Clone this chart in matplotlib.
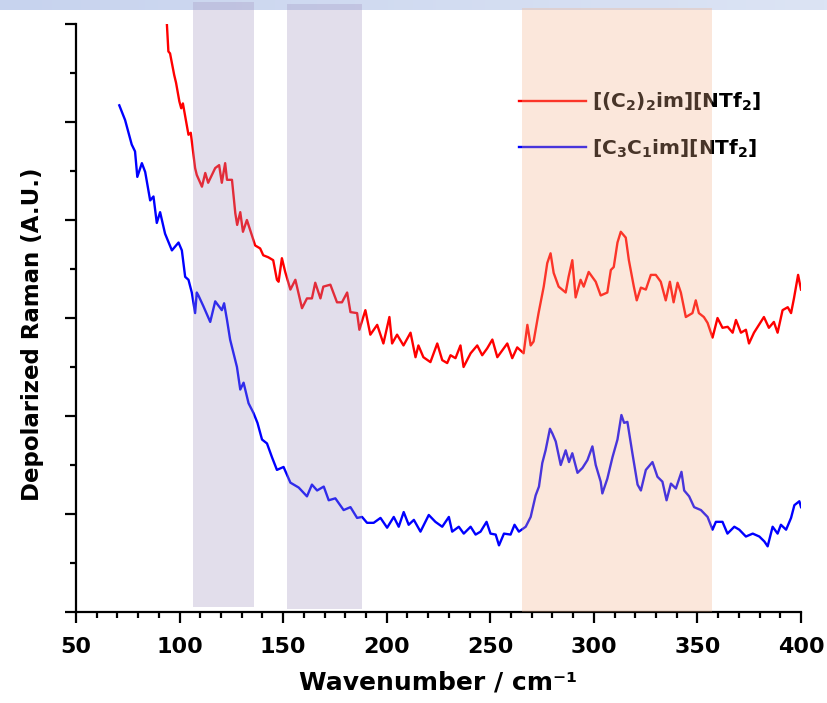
import numpy as np
import matplotlib.pyplot as plt
from matplotlib.colors import LinearSegmentedColormap
from matplotlib.patches import Rectangle
from matplotlib.ticker import MultipleLocator

plt.rcParams['font.family'] = ['DejaVu Sans']
plt.rcParams['font.weight'] = 'bold'
plt.rcParams['mathtext.default'] = 'bf'

# Depolarized Raman spectra (arbitrary units, offset)
red_wn = [93.9, 94.6, 95.4, 97.4, 98.3, 99.9, 100.8, 101.6, 104.3, 105.4,
          107.5, 108.3, 110.8, 112.4, 113.8, 117.2, 119.1, 120.4, 122.0, 122.9,
          125.3, 126.9, 127.8, 129.3, 130.6, 132.5, 136.5, 138.9, 140.4, 142.8,
          145.2, 147.0, 147.8, 149.4, 151.0, 153.5, 155.9, 159.1, 161.5, 163.9,
          165.5, 168.0, 169.4, 172.8, 176.0, 178.4, 180.9, 182.5, 185.7, 186.8,
          189.7, 192.1, 195.4, 198.4, 201.3, 202.6, 205.0, 208.1, 211.5, 213.9,
          215.3, 217.7, 221.1, 224.4, 226.8, 229.2, 230.8, 233.2, 235.6, 237.1,
          240.5, 243.7, 246.1, 248.5, 251.0, 253.4, 255.8, 258.2, 260.6, 263.0,
          266.1, 267.9, 269.5, 270.9, 273.3, 275.8, 277.5, 279.1, 280.6, 283.0,
          286.4, 287.8, 289.6, 291.2, 293.6, 295.1, 297.5, 300.9, 303.3, 306.5,
          308.2, 309.6, 311.4, 313.0, 315.4, 316.9, 319.3, 320.7, 322.7, 325.1,
          327.5, 329.9, 332.3, 334.7, 336.7, 338.5, 340.4, 342.0, 344.4, 347.6,
          349.2, 350.7, 353.1, 354.9, 357.3, 359.7, 362.1, 364.6, 367.0, 368.6,
          371.0, 373.4, 374.9, 377.3, 379.7, 382.1, 384.5, 386.9, 388.7, 391.1,
          393.6, 395.2, 396.6, 398.6, 400.0]
red_int = [5.99, 5.72, 5.70, 5.48, 5.40, 5.21, 5.14, 5.19, 4.87, 4.89,
           4.53, 4.46, 4.34, 4.48, 4.38, 4.53, 4.56, 4.38, 4.58, 4.41,
           4.41, 4.07, 3.95, 4.08, 3.88, 4.00, 3.74, 3.71, 3.64, 3.62,
           3.59, 3.39, 3.37, 3.61, 3.47, 3.29, 3.39, 3.10, 3.20, 3.20,
           3.36, 3.20, 3.32, 3.34, 3.16, 3.16, 3.26, 3.06, 3.05, 2.88,
           3.08, 2.83, 2.93, 2.74, 3.01, 2.74, 2.83, 2.72, 2.85, 2.60,
           2.72, 2.60, 2.55, 2.74, 2.57, 2.54, 2.62, 2.59, 2.72, 2.50,
           2.64, 2.72, 2.62, 2.69, 2.78, 2.60, 2.67, 2.74, 2.59, 2.70,
           2.64, 2.93, 2.72, 2.76, 3.05, 3.32, 3.56, 3.66, 3.46, 3.32,
           3.26, 3.42, 3.59, 3.21, 3.39, 3.32, 3.47, 3.37, 3.23, 3.26,
           3.49, 3.52, 3.77, 3.88, 3.82, 3.59, 3.32, 3.18, 3.31, 3.29,
           3.44, 3.44, 3.37, 3.18, 3.37, 3.16, 3.36, 3.26, 3.01, 3.05,
           3.18, 3.05, 3.01, 2.95, 2.80, 3.00, 2.90, 2.91, 2.85, 2.98,
           2.85, 2.88, 2.74, 2.85, 2.93, 3.01, 2.90, 2.96, 2.85, 3.08,
           3.11, 3.05, 3.20, 3.44, 3.29]

blue_wn = [70.9, 73.7, 76.9, 78.5, 79.6, 81.8, 83.4, 85.8, 87.4, 89.0,
           90.6, 93.0, 96.3, 99.5, 101.1, 102.7, 104.3, 105.9, 107.5, 108.3,
           109.1, 111.5, 114.8, 117.2, 120.4, 121.5, 122.9, 124.4, 127.7, 129.3,
           130.9, 133.3, 135.7, 137.6, 139.8, 142.2, 144.6, 147.0, 150.2, 153.5,
           157.5, 161.5, 163.9, 166.4, 169.6, 172.0, 175.2, 179.2, 182.5, 185.7,
           188.1, 190.5, 193.7, 197.0, 200.2, 203.4, 205.8, 208.2, 210.6, 213.1,
           216.3, 220.3, 223.5, 226.8, 230.0, 231.6, 234.8, 237.2, 240.5, 242.9,
           245.3, 248.2, 250.1, 252.6, 254.2, 256.6, 259.8, 261.7, 263.8, 267.1,
           269.5, 271.9, 273.5, 275.1, 276.7, 278.8, 280.0, 281.6, 284.0, 286.4,
           288.0, 289.6, 292.1, 294.5, 296.9, 299.3, 300.9, 303.3, 304.1, 306.5,
           309.0, 311.4, 313.3, 314.6, 316.2, 318.6, 321.1, 322.7, 325.1, 328.3,
           330.7, 333.1, 335.1, 337.2, 339.6, 342.3, 343.6, 346.0, 348.4, 351.7,
           354.9, 357.3, 358.9, 362.1, 364.5, 367.8, 370.2, 373.4, 376.7, 379.9,
           382.3, 383.9, 386.3, 388.7, 390.3, 392.8, 395.2, 396.8, 399.2, 400.0]
blue_int = [5.17, 5.02, 4.77, 4.70, 4.44, 4.58, 4.49, 4.20, 4.24, 3.97,
            4.08, 3.86, 3.69, 3.77, 3.69, 3.42, 3.39, 3.26, 3.05, 3.26,
            3.23, 3.12, 2.96, 3.17, 3.08, 3.15, 2.98, 2.78, 2.50, 2.27,
            2.34, 2.13, 2.03, 1.93, 1.76, 1.72, 1.58, 1.45, 1.48, 1.32,
            1.27, 1.18, 1.30, 1.24, 1.28, 1.14, 1.16, 1.04, 1.07, 0.96,
            0.97, 0.91, 0.91, 0.96, 0.86, 0.97, 0.87, 1.02, 0.89, 0.94,
            0.82, 0.99, 0.92, 0.87, 0.97, 0.82, 0.87, 0.80, 0.87, 0.79,
            0.82, 0.92, 0.80, 0.79, 0.68, 0.80, 0.79, 0.89, 0.82, 0.87,
            0.97, 1.19, 1.28, 1.52, 1.65, 1.87, 1.82, 1.74, 1.50, 1.65,
            1.53, 1.62, 1.42, 1.47, 1.55, 1.69, 1.50, 1.33, 1.21, 1.36,
            1.58, 1.76, 2.01, 1.93, 1.94, 1.62, 1.30, 1.24, 1.45, 1.53,
            1.38, 1.33, 1.14, 1.31, 1.26, 1.43, 1.24, 1.18, 1.07, 1.04,
            0.97, 0.84, 0.92, 0.92, 0.80, 0.87, 0.84, 0.77, 0.80, 0.77,
            0.72, 0.67, 0.87, 0.80, 0.89, 0.84, 0.96, 1.09, 1.13, 1.07]

labels = [r'[(C$_2$)$_2$im][NTf$_2$]', r'[C$_3$C$_1$im][NTf$_2$]']

# highlighted wavenumber windows: (start, end, bottom, top, colour)
bands = [(106.5, 136.0, 0.05, 6.22, '#a294c0'),
         (152.0, 188.0, 0.03, 6.20, '#a294c0'),
         (265.5, 356.8, 0.00, 6.16, '#f2b28a')]

fig = plt.figure(figsize=(8.27, 7.03), dpi=100, facecolor='white')

# pale blue strip along the top edge
strip = fig.add_axes([0, 1 - 10 / 703, 1, 10 / 703], zorder=0)
grad = np.linspace(0, 1, 256)[None, :]
strip.imshow(grad, aspect='auto', extent=[0, 1, 0, 1],
             cmap=LinearSegmentedColormap.from_list('strip',
                                                    ['#c7d3ee', '#dce4f4']))
strip.set_axis_off()

ax = fig.add_axes([76 / 827, 91 / 703, 725 / 827, 588 / 703], zorder=1)
ax.patch.set_alpha(0)

ax.plot(red_wn, red_int, color='#ff0000', lw=1.7, label=labels[0])
ax.plot(blue_wn, blue_int, color='#0000ff', lw=1.7, label=labels[1])

ax.set_xlim(50, 400)
ax.set_ylim(0, 6)

leg = ax.legend(loc='upper left', bbox_to_anchor=(0.6, 0.9), frameon=False,
                fontsize=14.5, handlelength=3.3, handletextpad=0.3,
                labelspacing=1.2, borderaxespad=0)

for x0, x1, y0, y1, c in bands:
    ax.add_patch(Rectangle((x0, y0), x1 - x0, y1 - y0, facecolor=c,
                           edgecolor='none', alpha=0.3, zorder=6,
                           clip_on=False))

for side in ('top', 'right'):
    ax.spines[side].set_visible(False)
for side in ('left', 'bottom'):
    ax.spines[side].set_linewidth(1.6)

ax.xaxis.set_major_locator(MultipleLocator(50))
ax.xaxis.set_minor_locator(MultipleLocator(10))
ax.yaxis.set_major_locator(MultipleLocator(1))
ax.yaxis.set_minor_locator(MultipleLocator(0.5))
ax.tick_params(which='major', direction='out', length=8, width=1.6,
               labelsize=16, pad=10)
ax.tick_params(which='minor', direction='out', length=4, width=1.6)
ax.tick_params(axis='y', labelleft=False)

ax.set_xlabel('Wavenumber / cm⁻¹', fontsize=18, fontweight='bold',
              labelpad=10)
fig.text(33 / 827, 1 - 334 / 703, 'Depolarized Raman (A.U.)', rotation=90,
         ha='center', va='center', fontsize=16.5, fontweight='bold')

fig.savefig('out.png', dpi=100)
